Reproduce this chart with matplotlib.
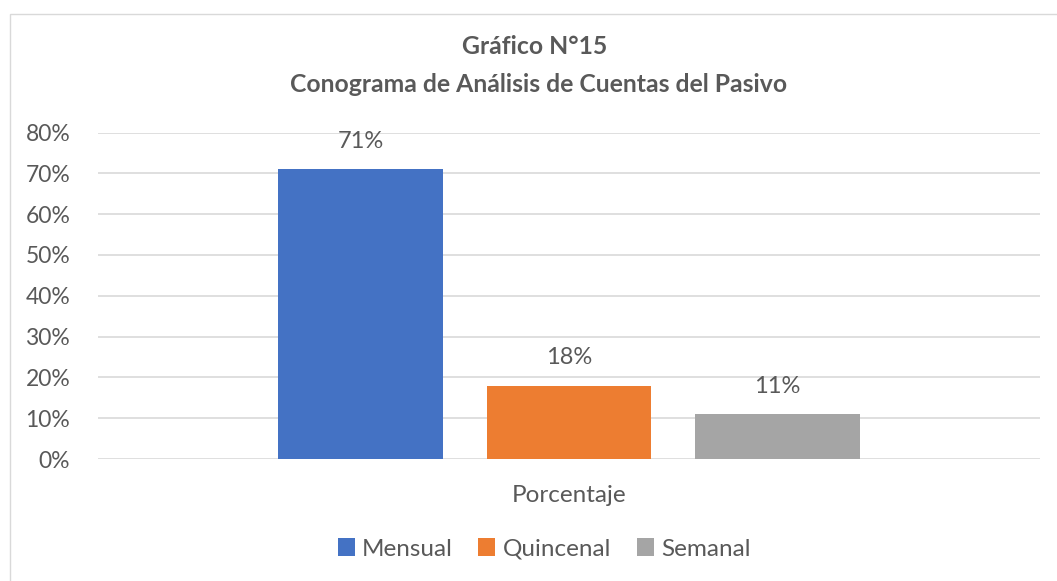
#!/usr/bin/env python3
"""
Grafico N°15 - Conograma de Analisis de Cuentas del Pasivo
"""

import matplotlib.pyplot as plt
from matplotlib.patches import Rectangle

plt.rcParams['font.family'] = ['Lato', 'DejaVu Sans']

# ============================================================================
# Data
# ============================================================================
series = ['Mensual', 'Quincenal', 'Semanal']
values = [0.71, 0.18, 0.11]
colors = ['#4472C4', '#ED7D31', '#A5A5A5']
category = 'Porcentaje'
yticks = [0, 0.1, 0.2, 0.3, 0.4, 0.5, 0.6, 0.7, 0.8]

text_color = '#595959'
grid_color = '#D9D9D9'

# ============================================================================
# Figure
# ============================================================================
fig = plt.figure(figsize=(10.57, 5.81), dpi=100)
ax = fig.add_axes([98 / 1057, 1 - 459 / 581, 942 / 1057, (459 - 132.5) / 581])

# outer chart border
fig.patches.append(Rectangle((10 / 1057, -0.01), 1.1, 1 - 14 / 581 + 0.01,
                             transform=fig.transFigure, fill=False,
                             edgecolor='#D9D9D9', linewidth=1.0))

offsets = [-0.2213, 0.0, 0.2213]
bar_w = 0.175
for name, val, col, off in zip(series, values, colors, offsets):
    ax.bar(off, val, width=bar_w, color=col, label=name, zorder=3)
    ax.text(off, val + 0.043, f'{val * 100:.0f}%', ha='center', va='bottom',
            fontsize=17, color=text_color)

ax.set_xlim(-0.5, 0.5)
ax.set_ylim(0, 0.8)
ax.set_yticks(yticks)
ax.set_yticklabels([f'{t * 100:.0f}%' for t in yticks])
ax.set_xticks([0])
ax.set_xticklabels([category])
ax.tick_params(axis='y', length=0, labelsize=16.5, colors=text_color, pad=20)
ax.tick_params(axis='x', length=0, labelsize=17.5, colors=text_color, pad=19)
ax.grid(axis='y', color=grid_color, linewidth=1.2, zorder=0)
for s in ax.spines.values():
    s.set_visible(False)

fig.text(535 / 1057, 1 - 47 / 581, 'Gráfico N°15', ha='center', va='center',
         fontsize=17.8, fontweight='bold', color=text_color)
fig.text(539 / 1057, 1 - 85 / 581, 'Conograma de Análisis de Cuentas del Pasivo',
         ha='center', va='center', fontsize=17.8, fontweight='bold', color=text_color)

leg = ax.legend(loc='center', bbox_to_anchor=(544 / 1057, 1 - 549 / 581),
                bbox_transform=fig.transFigure, ncol=3, frameon=False,
                fontsize=17.5, handlelength=0.7, handleheight=0.7,
                handletextpad=0.3, columnspacing=1.05)
for t in leg.get_texts():
    t.set_color(text_color)

plt.savefig('out.png', dpi=100)
plt.close()
